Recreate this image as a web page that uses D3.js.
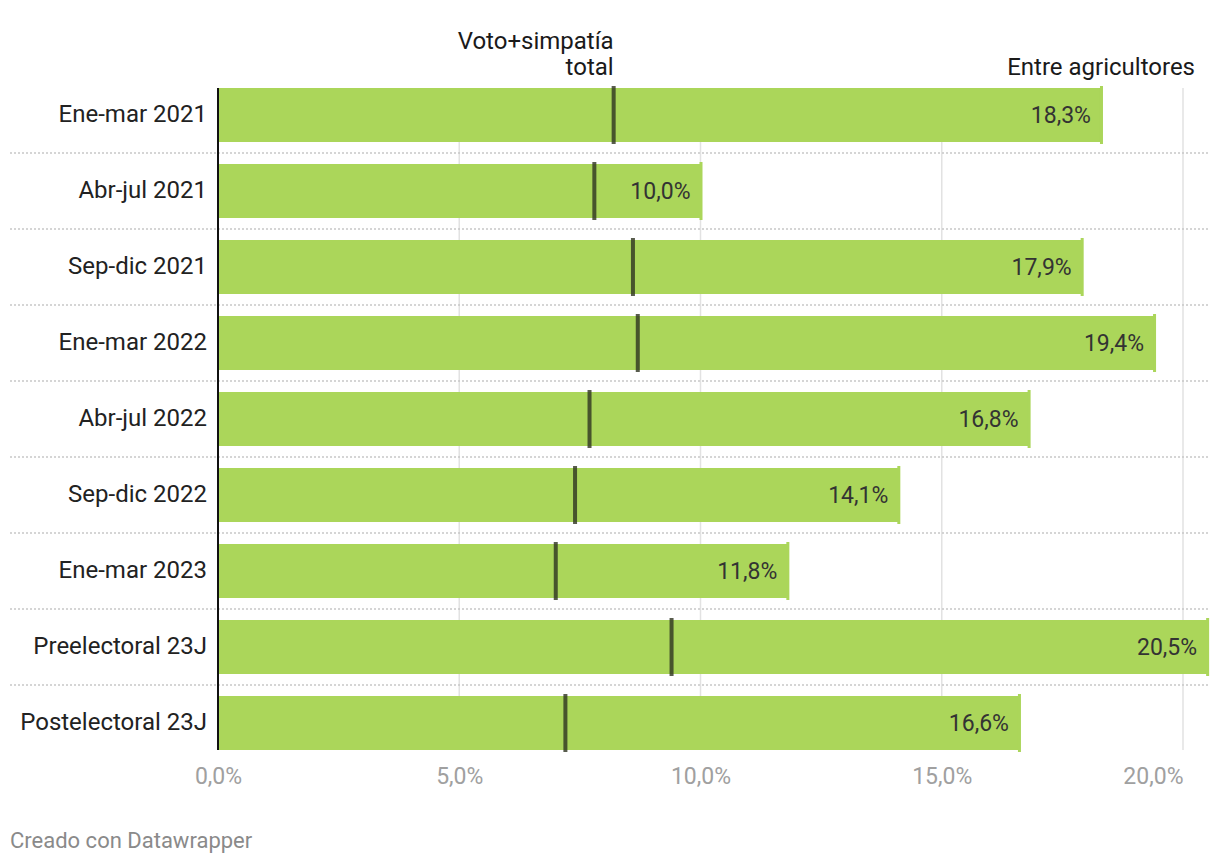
<!DOCTYPE html>
<html>
<head>
<meta charset="utf-8">
<script src="https://cdn.jsdelivr.net/npm/d3@7"></script>
<style>
  html, body { margin: 0; padding: 0; background: #fff; }
  svg { display: block; font-family: Roboto, "Noto Sans", sans-serif; }
</style>
</head>
<body>
<svg id="chart" width="1220" height="864"></svg>
<script>
const categories = ["Ene-mar 2021","Abr-jul 2021","Sep-dic 2021","Ene-mar 2022","Abr-jul 2022","Sep-dic 2022","Ene-mar 2023","Preelectoral 23J","Postelectoral 23J"];
const agricultores = [18.3, 10.0, 17.9, 19.4, 16.8, 14.1, 11.8, 20.5, 16.6];
const votoTotal = [8.2, 7.8, 8.6, 8.7, 7.7, 7.4, 7.0, 9.4, 7.2];
const tickValues = [0, 5, 10, 15, 20];
const headerTotal = ["Voto+simpatía", "total"];
const headerAgri = "Entre agricultores";
const credit = "Creado con Datawrapper";

const svg = d3.select("#chart");
const fmt = v => v.toFixed(1).replace(".", ",") + "%";

const x = d3.scaleLinear().domain([0, 20]).range([218, 1183]);
const pad = 22 / 76;
const y = d3.scaleBand().domain(categories).range([77, 761]).paddingInner(pad).paddingOuter(pad / 2);
const bh = y.bandwidth();

// vertical gridlines
svg.append("g").selectAll("line").data(tickValues.filter(d => d > 0)).join("line")
  .attr("x1", d => x(d)).attr("x2", d => x(d))
  .attr("y1", y(categories[0])).attr("y2", y(categories[categories.length - 1]) + bh)
  .attr("stroke", "#e2e2e2").attr("stroke-width", 1.5);

// dotted separators
svg.append("g").selectAll("line").data(categories.slice(1)).join("line")
  .attr("x1", 10).attr("x2", 1210)
  .attr("y1", d => y(d) - y.step() * pad / 2).attr("y2", d => y(d) - y.step() * pad / 2)
  .attr("stroke", "#c8c8c8").attr("stroke-width", 1.5).attr("stroke-dasharray", "2,2");

// bars
const rows = categories.map((c, i) => ({c, a: agricultores[i], t: votoTotal[i]}));
svg.append("g").selectAll("rect").data(rows).join("rect")
  .attr("x", x(0)).attr("y", d => y(d.c))
  .attr("width", d => x(d.a) - x(0)).attr("height", bh)
  .attr("fill", "#abd65a");
// bar end ticks
svg.append("g").selectAll("rect").data(rows).join("rect")
  .attr("x", d => x(d.a) - 1).attr("y", d => y(d.c) - 2)
  .attr("width", 3).attr("height", bh + 4)
  .attr("fill", "#abd65a");

// total markers
svg.append("g").selectAll("rect").data(rows).join("rect")
  .attr("x", d => x(d.t) - 2).attr("y", d => y(d.c) - 2)
  .attr("width", 4).attr("height", bh + 4)
  .attr("fill", "#2e3320").attr("fill-opacity", 0.8);

// value labels
svg.append("g").selectAll("text").data(rows).join("text")
  .attr("x", d => x(d.a) - 10).attr("y", d => y(d.c) + bh / 2)
  .attr("dy", "0.34em").attr("text-anchor", "end")
  .attr("font-size", 23).attr("fill", "#333")
  .text(d => fmt(d.a));

// zero axis line
svg.append("line")
  .attr("x1", x(0)).attr("x2", x(0))
  .attr("y1", y(categories[0])).attr("y2", y(categories[categories.length - 1]) + bh)
  .attr("stroke", "#111").attr("stroke-width", 2);

// category labels
svg.append("g").selectAll("text").data(categories).join("text")
  .attr("x", 207).attr("y", d => y(d) + bh / 2)
  .attr("dy", "0.3em").attr("text-anchor", "end")
  .attr("font-size", 24).attr("fill", "#222")
  .text(d => d);

// bottom axis
const axis = d3.axisBottom(x).tickValues(tickValues).tickSize(0).tickPadding(0)
  .tickFormat(d => fmt(d));
const gAxis = svg.append("g").attr("transform", "translate(0,784)").call(axis);
gAxis.select(".domain").remove();
gAxis.selectAll("text").attr("font-size", 23).attr("fill", "#a0a0a0")
  .attr("font-family", "Roboto, sans-serif").attr("dy", "0")
  .attr("text-anchor", d => d === tickValues[tickValues.length - 1] ? "end" : "middle");

// headers
const hx = x(votoTotal[0]);
svg.append("text").attr("x", hx).attr("y", 48.5).attr("text-anchor", "end")
  .attr("font-size", 24).attr("fill", "#1a1a1a").text(headerTotal[0]);
svg.append("text").attr("x", hx).attr("y", 74.5).attr("text-anchor", "end")
  .attr("font-size", 24).attr("fill", "#1a1a1a").text(headerTotal[1]);
svg.append("text").attr("x", 1195).attr("y", 74.5).attr("text-anchor", "end")
  .attr("font-size", 24).attr("fill", "#1a1a1a").text(headerAgri);

// credit
svg.append("text").attr("x", 10).attr("y", 848)
  .attr("font-size", 22).attr("fill", "#8a8a8a").text(credit);
</script>
</body>
</html>
